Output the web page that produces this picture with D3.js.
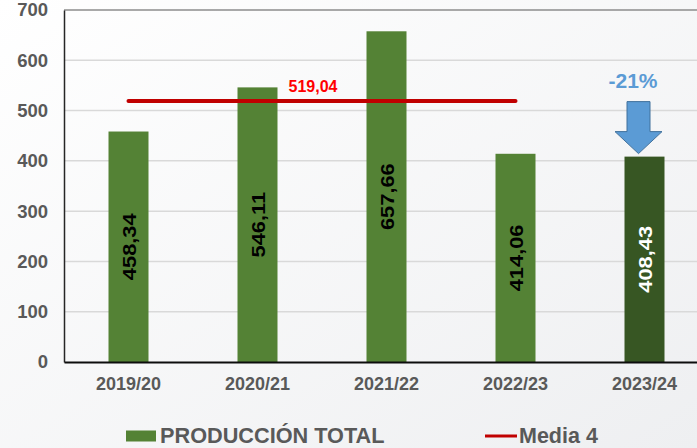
<!DOCTYPE html>
<html><head><meta charset="utf-8">
<script src="https://cdn.jsdelivr.net/npm/d3@7"></script>
<style>html,body{margin:0;padding:0;overflow:hidden}svg{display:block}</style>
</head><body>
<script>
const categories = ["2019/20","2020/21","2021/22","2022/23","2023/24"];
const values = [458.34, 546.11, 657.66, 414.06, 408.43];
const labels = ["458,34","546,11","657,66","414,06","408,43"];
const mediaValue = 519.04;
const mediaLabel = "519,04";
const yTicks = [0,100,200,300,400,500,600,700];
const changeLabel = "-21%";

const FONT = "Liberation Sans, Arial, sans-serif";
const W = 697, H = 448;
const m = {left:64, top:10, right:-12, bottom:86};
const svg = d3.select("body").append("svg").attr("width",W).attr("height",H);
const defs = svg.append("defs");
const g1 = defs.append("linearGradient").attr("id","bg").attr("x1","0").attr("y1","0").attr("x2","1").attr("y2","1");
g1.append("stop").attr("offset","0").attr("stop-color","#ffffff");
g1.append("stop").attr("offset","1").attr("stop-color","#eeeff1");
svg.append("rect").attr("width",W).attr("height",H).attr("fill","url(#bg)");

const x = d3.scaleBand().domain(categories).range([m.left, W - m.right]).paddingInner(0.69).paddingOuter(0.345);
const y = d3.scaleLinear().domain([0,700]).range([H - m.bottom, m.top]);
const cx = i => x(categories[i]) + x.bandwidth()/2;

// grid
svg.append("g").selectAll("line").data(yTicks.filter(d=>d>0)).join("line")
  .attr("x1",m.left).attr("x2",W).attr("y1",d=>y(d)).attr("y2",d=>y(d))
  .attr("stroke",d=>d===700?"#8c8c8c":"#d9d9d9").attr("stroke-width",1.5);

// bars
svg.append("g").selectAll("rect").data(values).join("rect")
  .attr("x",(d,i)=>x(categories[i])).attr("width",x.bandwidth())
  .attr("y",d=>y(d)).attr("height",d=>y(0)-y(d))
  .attr("fill",(d,i)=>i===4?"#375623":"#548235");

// axes
const yAxis = svg.append("g").attr("transform",`translate(${m.left},0)`)
  .call(d3.axisLeft(y).tickValues(yTicks).tickSize(0).tickPadding(16));
yAxis.select(".domain").attr("stroke","#262626").attr("stroke-width",1.5);
yAxis.selectAll("text").attr("font-family",FONT).attr("font-weight","bold").attr("font-size","18.5px").attr("fill","#595959");

const xAxis = svg.append("g").attr("transform",`translate(0,${y(0)})`)
  .call(d3.axisBottom(x).tickSize(0).tickPadding(15.5));
xAxis.select(".domain").attr("stroke","#0d0d0d").attr("stroke-width",2);
xAxis.selectAll("text").attr("font-family",FONT).attr("font-weight","bold").attr("font-size","18px").attr("fill","#595959");

// media line
svg.append("line").attr("x1",cx(0)).attr("x2",cx(3)).attr("y1",y(mediaValue)).attr("y2",y(mediaValue))
  .attr("stroke","#c00000").attr("stroke-width",4).attr("stroke-linecap","round");
svg.append("text").attr("x",cx(1) + 0.43*x.step()).attr("y",y(mediaValue)-9)
  .attr("text-anchor","middle").attr("font-family",FONT).attr("font-weight","bold").attr("font-size","16px").attr("fill","#ff0000").text(mediaLabel);

// value labels
svg.append("g").selectAll("text").data(values).join("text")
  .attr("transform",(d,i)=>`translate(${cx(i)+7},${(y(d)+y(0))/2}) rotate(-90) scale(1.15,1)`)
  .attr("text-anchor","middle")
  .attr("font-family",FONT).attr("font-weight","bold").attr("font-size","19px")
  .attr("fill",(d,i)=>i===4?"#ffffff":"#000000").text((d,i)=>labels[i]);

// arrow
const ac = cx(4) - 6;
const tipY = y(values[4]) - 3;
const pts = [[ac-11.5,tipY-52],[ac+11.5,tipY-52],[ac+11.5,tipY-22],[ac+23.5,tipY-22],[ac,tipY],[ac-23.5,tipY-22],[ac-11.5,tipY-22]];
svg.append("path").attr("d","M"+pts.map(p=>p.join(",")).join("L")+"Z")
  .attr("fill","#5b9bd5").attr("stroke","#41719c").attr("stroke-width",1);
svg.append("text").attr("x",cx(4)-11.5).attr("y",tipY-66).attr("text-anchor","middle")
  .attr("font-family",FONT).attr("font-weight","bold").attr("font-size","21px").attr("fill","#5b9bd5").text(changeLabel);

// legend
const lg = svg.append("g");
lg.append("rect").attr("x",126).attr("y",430.5).attr("width",30).attr("height",11).attr("fill","#548235");
lg.append("text").attr("x",160).attr("y",443).attr("font-family",FONT).attr("font-weight","bold").attr("font-size","21.7px").attr("fill","#595959").text("PRODUCCIÓN TOTAL");
lg.append("line").attr("x1",485).attr("x2",517).attr("y1",436).attr("y2",436).attr("stroke","#c00000").attr("stroke-width",3);
lg.append("text").attr("x",519).attr("y",443).attr("font-family",FONT).attr("font-weight","bold").attr("font-size","21.5px").attr("fill","#595959").text("Media 4");
</script>
</body></html>
